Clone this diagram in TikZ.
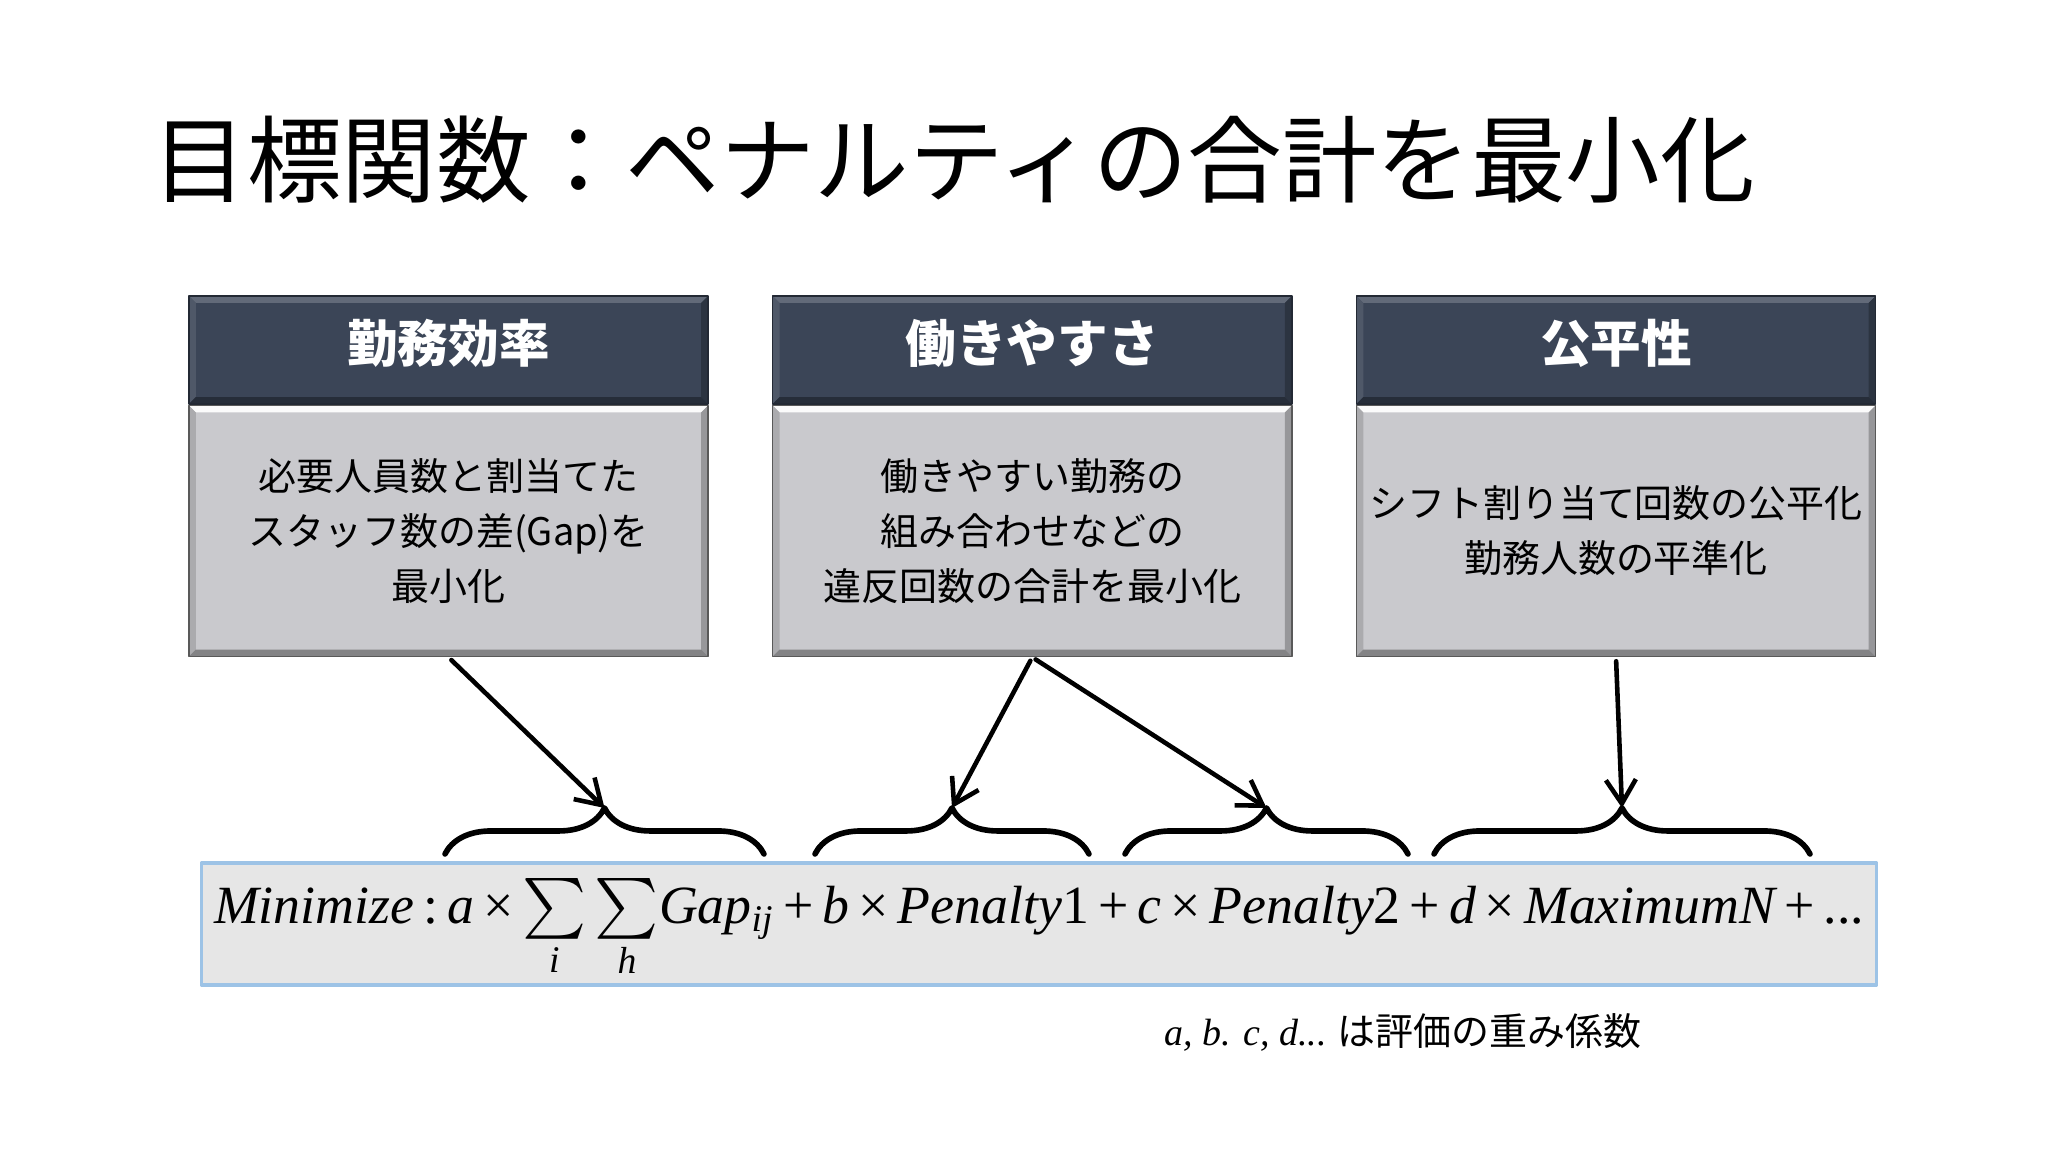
\documentclass[tikz,border=0pt]{standalone}
\usepackage{amsmath}
\usepackage{fontspec}
\setmainfont{Noto Sans CJK JP}
\newfontfamily\tfont{Liberation Serif}
\usetikzlibrary{arrows.meta,positioning,calc,decorations.pathreplacing}

\definecolor{headblue}{HTML}{3B4557}
\definecolor{bodygray}{HTML}{C9C9CD}
\definecolor{formgray}{HTML}{E6E6E6}
\definecolor{formedge}{HTML}{9DC3E6}

\newcommand{\ital}[1]{{\tfont\itshape #1}}
\newcommand{\op}[1]{\,{\tfont #1}\,}
\newcommand{\bigsum}{\mathop{\scalebox{1.2}{$\sum$}}\limits}
% bevel edges: top, left, right, bottom
\newcommand{\bevel}[4]{%
  \fill[#1] (path picture bounding box.north west) -- (path picture bounding box.north east) -- ([shift={(-0.07cm,-0.07cm)}]path picture bounding box.north east) -- ([shift={(0.07cm,-0.07cm)}]path picture bounding box.north west) -- cycle;
  \fill[#2] (path picture bounding box.north west) -- ([shift={(0.07cm,-0.07cm)}]path picture bounding box.north west) -- ([shift={(0.07cm,0.07cm)}]path picture bounding box.south west) -- (path picture bounding box.south west) -- cycle;
  \fill[#3] (path picture bounding box.north east) -- ([shift={(-0.07cm,-0.07cm)}]path picture bounding box.north east) -- ([shift={(-0.07cm,0.07cm)}]path picture bounding box.south east) -- (path picture bounding box.south east) -- cycle;
  \fill[#4] (path picture bounding box.south west) -- ([shift={(0.07cm,0.07cm)}]path picture bounding box.south west) -- ([shift={(-0.07cm,0.07cm)}]path picture bounding box.south east) -- (path picture bounding box.south east) -- cycle;
}

\tikzset{
  headbox/.style={draw=headblue!60!black, fill=headblue, text=white, font=\fontsize{14.4}{17}\selectfont\bfseries,
    minimum width=5.19cm, minimum height=1.08cm, inner sep=0pt, text depth=0.19cm,
    path picture={\bevel{headblue!80!white}{headblue!90!white}{headblue!75!black}{headblue!65!black}}},
  bodybox/.style={draw=gray!70!black, fill=bodygray, font=\fontsize{10.8}{15.6}\selectfont, align=center,
    minimum width=5.19cm, minimum height=2.51cm, inner sep=0pt,
    path picture={\bevel{white!92!bodygray}{bodygray!85!black}{bodygray!75!black}{bodygray!65!black}}},
  formbox/.style={draw=formedge, line width=0.9pt, fill=formgray, minimum width=16.74cm, minimum height=1.22cm,
    inner sep=0pt, text height=0.4cm, text depth=0.4cm, font=\fontsize{15.3}{18}\selectfont},
  curly/.style={decorate, decoration={brace, amplitude=0.46cm}, line width=1.6pt},
  arr/.style={->, line width=1.3pt, shorten <=0.04cm}
}

\begin{document}
\begin{tikzpicture}[line cap=round,line join=round,>={Straight Barb[length=2.4mm,width=3mm]},x=0.01cm,y=0.01cm]
\fill[white] (0,0) rectangle (2048,1152);
\useasboundingbox (0,0) rectangle (2048,1152);

\node[anchor=west, inner sep=0pt, font=\fontsize{26.9}{32}\selectfont] (title) at (152,992) {目標関数：ペナルティの合計を最小化};

\node[headbox] (h1) at (448.5,802) {勤務効率};
\node[headbox, right=0.63cm of h1] (h2) {働きやすさ};
\node[headbox, right=0.63cm of h2] (h3) {公平性};
\node[bodybox, below=0cm of h1] (b1) {必要人員数と割当てた\\スタッフ数の差(Gap)を\\最小化};
\node[bodybox, below=0cm of h2] (b2) {働きやすい勤務の\\組み合わせなどの\\違反回数の合計を最小化};
\node[bodybox, below=0cm of h3] (b3) {シフト割り当て回数の公平化\\勤務人数の平準化};

\node[formbox] (f) at (1039,228) {\ital{Minimize}\op{:}\ital{a}\op{×}$\bigsum_{\text{\ital{i}}}\bigsum_{\text{\ital{h}}}$\ital{Gap}$_{\text{\ital{ij}}}$\op{+}\ital{b}\op{×}\ital{Penalty}{\tfont 1}\op{+}\ital{c}\op{×}\ital{Penalty}{\tfont 2}\op{+}\ital{d}\op{×}\ital{MaximumN}\op{+}{\tfont ...}};

\coordinate (g1l) at (445,298);
\coordinate (g1r) at (764,298);
\coordinate (g2l) at (815,298);
\coordinate (g2r) at (1089,298);
\coordinate (g3l) at (1125,298);
\coordinate (g3r) at (1408,298);
\coordinate (g4l) at (1434,298);
\coordinate (g4r) at (1810,298);
\foreach \i in {1,...,4}{
  \draw[curly] (g\i l) -- (g\i r);
  \coordinate (tip\i) at ($(g\i l)!0.5!(g\i r)+(0,46)$);
}

\draw[arr] (b1.south) -- (tip1);
\draw[arr] (b2.south) -- (tip2);
\draw[arr] (b2.south) -- (tip3);
\draw[arr] (b3.south) -- (tip4);

\node[font=\fontsize{10.8}{13}\selectfont] (note) at (1403,120) {\ital{a, b. c, d...} は評価の重み係数};
\end{tikzpicture}
\end{document}
